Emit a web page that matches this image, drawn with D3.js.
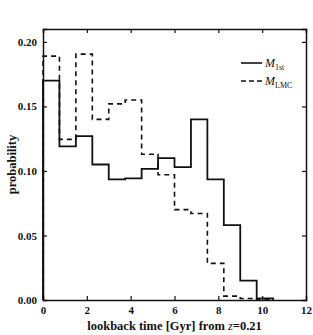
<!DOCTYPE html>
<html>
<head>
<meta charset="utf-8">
<script src="https://cdn.jsdelivr.net/npm/d3@7"></script>
<style>
  body { margin: 0; background: #fff; }
  svg text { font-family: "Liberation Serif", "DejaVu Serif", serif; }
  .axis text { font-weight: bold; font-size: 11px; }
</style>
</head>
<body>
<div class="chart"></div>
<script>
// DATA ------------------------------
// bin edges in Gyr (width 0.75)
const binEdges = [0, 0.75, 1.5, 2.25, 3.0, 3.75, 4.5, 5.25, 6.0, 6.75, 7.5, 8.25, 9.0, 9.75, 10.5];
const first = [0.170, 0.119, 0.127, 0.105, 0.0935, 0.0942, 0.1016, 0.110, 0.103, 0.140, 0.0935, 0.058, 0.015, 0.0013];
const lmc   = [0.189, 0.1245, 0.1905, 0.140, 0.152, 0.155, 0.113, 0.097, 0.070, 0.067, 0.0284, 0.003, 0.0012, 0.0003];
const xTicks = [0, 2, 4, 6, 8, 10, 12];
const yTicks = [0, 0.05, 0.10, 0.15, 0.20];

// CHART INIT ------------------------
const margin = ({top: 29, right: 7, bottom: 35, left: 43});
const w = 313 - margin.left - margin.right,
      h = 335 - margin.top - margin.bottom;

const svg = d3.select(".chart")
    .append("svg")
    .attr("width", w + margin.left + margin.right)
    .attr("height", h + margin.top + margin.bottom)
    .append("g")
    .attr("transform", "translate(" + margin.left + "," + margin.top + ")");

const xScale = d3.scaleLinear().domain([0, 12]).range([0, w]);
const yScale = d3.scaleLinear().domain([0, 0.21]).range([h, 0]);

// step histogram path
function stepPoints(vals){
    const pts = [[binEdges[0], 0]];
    vals.forEach((v, i) => {
        pts.push([binEdges[i], v]);
        pts.push([binEdges[i + 1], v]);
    });
    pts.push([binEdges[binEdges.length - 1], 0]);
    return pts;
}

const line = d3.line()
    .x(d => xScale(d[0]))
    .y(d => yScale(d[1]));

svg.append("path")
    .datum(stepPoints(lmc))
    .attr("d", line)
    .attr("fill", "none")
    .attr("stroke", "#111")
    .attr("stroke-width", 1.6)
    .attr("stroke-dasharray", "5,4");

svg.append("path")
    .datum(stepPoints(first))
    .attr("d", line)
    .attr("fill", "none")
    .attr("stroke", "#111")
    .attr("stroke-width", 1.8);

// axes (ticks point inward)
const xAxis = d3.axisBottom(xScale).tickValues(xTicks).tickSize(-4).tickPadding(6).tickFormat(d3.format("d"));
const yAxis = d3.axisLeft(yScale).tickValues(yTicks).tickSize(-4).tickPadding(6).tickFormat(d3.format(".2f"));

svg.append("g")
    .attr("class", "axis x-axis")
    .attr("transform", `translate(0, ${h})`)
    .call(xAxis);
svg.append("g")
    .attr("class", "axis y-axis")
    .call(yAxis);
svg.append("g")
    .attr("class", "axis x-top")
    .call(d3.axisTop(xScale).tickValues(xTicks).tickSize(-4).tickFormat(""));
svg.append("g")
    .attr("class", "axis y-right")
    .attr("transform", `translate(${w}, 0)`)
    .call(d3.axisRight(yScale).tickValues(yTicks).tickSize(-4).tickFormat(""));

svg.selectAll(".axis .domain").attr("stroke", "#111").attr("stroke-width", 1.5);
svg.selectAll(".axis .tick line").attr("stroke", "#111").attr("stroke-width", 1.2);
svg.selectAll(".axis text").attr("fill", "#111");
// hide edge ticks that sit on the frame
svg.selectAll(".x-axis .tick line, .x-top .tick line").filter(d => d === 0 || d === 12).remove();
svg.selectAll(".y-axis .tick line, .y-right .tick line").filter(d => d === 0).remove();

// axis titles
const xLabel = svg.append("text")
    .attr("x", w / 2)
    .attr("y", h + 30)
    .attr("text-anchor", "middle")
    .attr("font-weight", "bold")
    .attr("font-size", "12.5px")
    .attr("fill", "#111");
xLabel.append("tspan").text("lookback time [Gyr] from ");
xLabel.append("tspan").attr("font-style", "italic").attr("font-weight", "normal").text("z");
xLabel.append("tspan").text("=0.21");

svg.append("text")
    .attr("transform", `translate(${-margin.left + 16}, ${h / 2}) rotate(-90)`)
    .attr("text-anchor", "middle")
    .attr("font-weight", "bold")
    .attr("font-size", "12.5px")
    .attr("fill", "#111")
    .text("probability");

// legend
const legend = [
    {name: "1st", dash: null},
    {name: "LMC", dash: "5,3"}
];
const lg = svg.selectAll(".legend")
    .data(legend)
    .enter()
    .append("g")
    .attr("class", "legend")
    .attr("transform", (d, i) => `translate(${w - 65}, ${34 + i * 18})`);

lg.append("line")
    .attr("x1", 0).attr("x2", 21)
    .attr("stroke", "#111")
    .attr("stroke-width", 1.6)
    .attr("stroke-dasharray", d => d.dash);

const lt = lg.append("text")
    .attr("x", 24)
    .attr("y", 4)
    .attr("font-size", "12px")
    .attr("fill", "#111");
lt.append("tspan").attr("font-style", "italic").text("M");
lt.append("tspan").attr("font-size", "8px").attr("dy", 3).text(d => d.name);
</script>
</body>
</html>
